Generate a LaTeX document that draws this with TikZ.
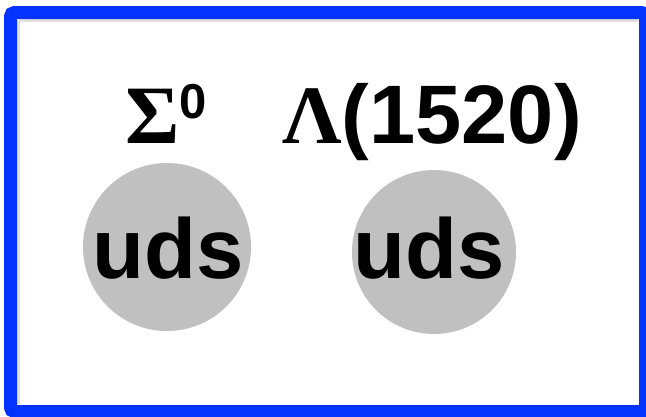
\documentclass[tikz,border=0pt]{standalone}
\usepackage{fontspec}
\setmainfont{Liberation Sans}
\newfontfamily\greekserif{Liberation Serif}
\definecolor{frameblue}{RGB}{4,51,255}
\definecolor{quarkgray}{RGB}{192,192,192}
\begin{document}
\begin{tikzpicture}[x=1pt,y=-1pt,
  quark/.style={circle,fill=quarkgray,inner sep=0pt},
  qtext/.style={font=\fontsize{85}{90}\selectfont\bfseries,anchor=base,inner sep=0pt},
  hlabel/.style={font=\fontsize{83}{90}\selectfont\bfseries,anchor=base,inner sep=0pt}]
\useasboundingbox (0,0) rectangle (646,416);
% blue frame, cut at the page edge on the right
\begin{scope}
  \clip (0,0) rectangle (646,416);
  \draw[black!12,line width=3pt] (18.5,20.5) -- (638,20.5);
  \draw[black!12,line width=3pt] (18.5,20.5) -- (18.5,404);
  \draw[frameblue,line width=13pt,rounded corners=4pt] (10.5,12.5) rectangle (645.5,411.5);
\end{scope}
% quark-content discs
\node[quark,minimum size=168pt] (q1) at (167,247) {};
\node[quark,minimum size=164pt] (q2) at (434,252) {};
\node[qtext] (t1) at (168,278) {uds};
\node[qtext] (t2) at (429,278) {uds};
% particle names
\node[hlabel] (sig) at (166,143) {{\greekserif Σ}\raisebox{25pt}{\fontsize{49}{50}\selectfont 0}};
\node[hlabel] (lam) at (432,143) {{\greekserif Λ}(1520)};
\end{tikzpicture}
\end{document}
